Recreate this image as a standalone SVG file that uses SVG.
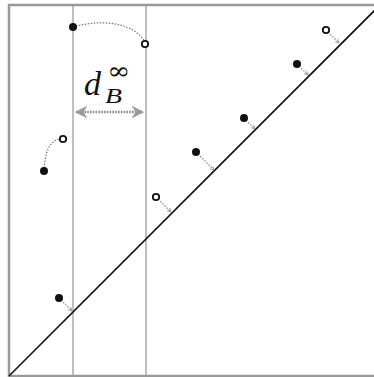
<svg xmlns="http://www.w3.org/2000/svg" width="374" height="377" viewBox="0 0 374 377">
<defs>
<style>
.frame{fill:none;stroke:#999;stroke-width:2.5}
.vline{stroke:#aaa;stroke-width:1.5}
.diag{stroke:#111;stroke-width:1.6}
.proj{fill:none;stroke:#888;stroke-width:1.2;stroke-dasharray:1.5 1.5;marker-end:url(#ah)}
.curve{fill:none;stroke:#777;stroke-width:1.2;stroke-dasharray:1.5 1.5}
.dim{fill:none;stroke:#888;stroke-width:2.5;stroke-dasharray:1.6 1.2}
.filled{fill:#111}
.open{fill:#fff;stroke:#111;stroke-width:1.8}
.lbl{font-family:"Liberation Serif",serif;font-style:italic;fill:#111}
</style>
<marker id="ah" viewBox="0 0 8 8" refX="7" refY="4" markerWidth="5" markerHeight="5" orient="auto" markerUnits="userSpaceOnUse">
<path d="M1,1 L7,4 L1,7" fill="none" stroke="#888" stroke-width="1.2"/>
</marker>
<marker id="dh" viewBox="0 0 10 10" refX="9" refY="5" markerWidth="5" markerHeight="5" orient="auto-start-reverse">
<path d="M0,0 L10,5 L0,10 L3,5 Z" fill="#999"/>
</marker>
</defs>
<rect class="frame" x="9" y="5" width="370" height="371"/>
<g id="axes">
<line class="vline" x1="73" y1="6" x2="73" y2="375"/>
<line class="vline" x1="146" y1="6" x2="146" y2="375"/>
<line class="diag" x1="9" y1="376" x2="376" y2="9"/>
</g>
<g id="connectors">
<path class="curve" d="M73,27 C105,18 135,24 145,42"/>
<path class="curve" d="M44,171 C45,152 49,141 60,139"/>
<line class="proj" x1="59" y1="298" x2="72" y2="311"/>
<line class="proj" x1="156" y1="197" x2="171" y2="212"/>
<line class="proj" x1="196" y1="152" x2="214" y2="170"/>
<line class="proj" x1="244" y1="118" x2="255" y2="129"/>
<line class="proj" x1="297" y1="64" x2="308" y2="75"/>
<line class="proj" x1="326" y1="30" x2="339" y2="43"/>
<line class="dim" x1="76" y1="112" x2="143" y2="112" marker-start="url(#dh)" marker-end="url(#dh)"/>
</g>
<g id="n1"><circle class="filled" cx="73" cy="27" r="4"/></g>
<g id="n2"><circle class="open" cx="145" cy="44" r="3.2"/></g>
<g id="n3"><circle class="filled" cx="44" cy="171" r="4"/></g>
<g id="n4"><circle class="open" cx="63" cy="139" r="3.2"/></g>
<g id="n5"><circle class="filled" cx="59" cy="298" r="4"/></g>
<g id="n6"><circle class="open" cx="156" cy="197" r="3.2"/></g>
<g id="n7"><circle class="filled" cx="196" cy="152" r="4"/></g>
<g id="n8"><circle class="filled" cx="244" cy="118" r="4"/></g>
<g id="n9"><circle class="filled" cx="297" cy="64" r="4"/></g>
<g id="n10"><circle class="open" cx="326" cy="30" r="3.2"/></g>
<g id="label">
<text class="lbl" x="84" y="95" font-size="34">d</text>
<text class="lbl" x="105" y="103" font-size="22" textLength="17" lengthAdjust="spacingAndGlyphs">B</text>
<text x="107" y="79" font-size="24" font-family="'DejaVu Serif',serif" fill="#111" textLength="23" lengthAdjust="spacingAndGlyphs">∞</text>
</g>
</svg>
